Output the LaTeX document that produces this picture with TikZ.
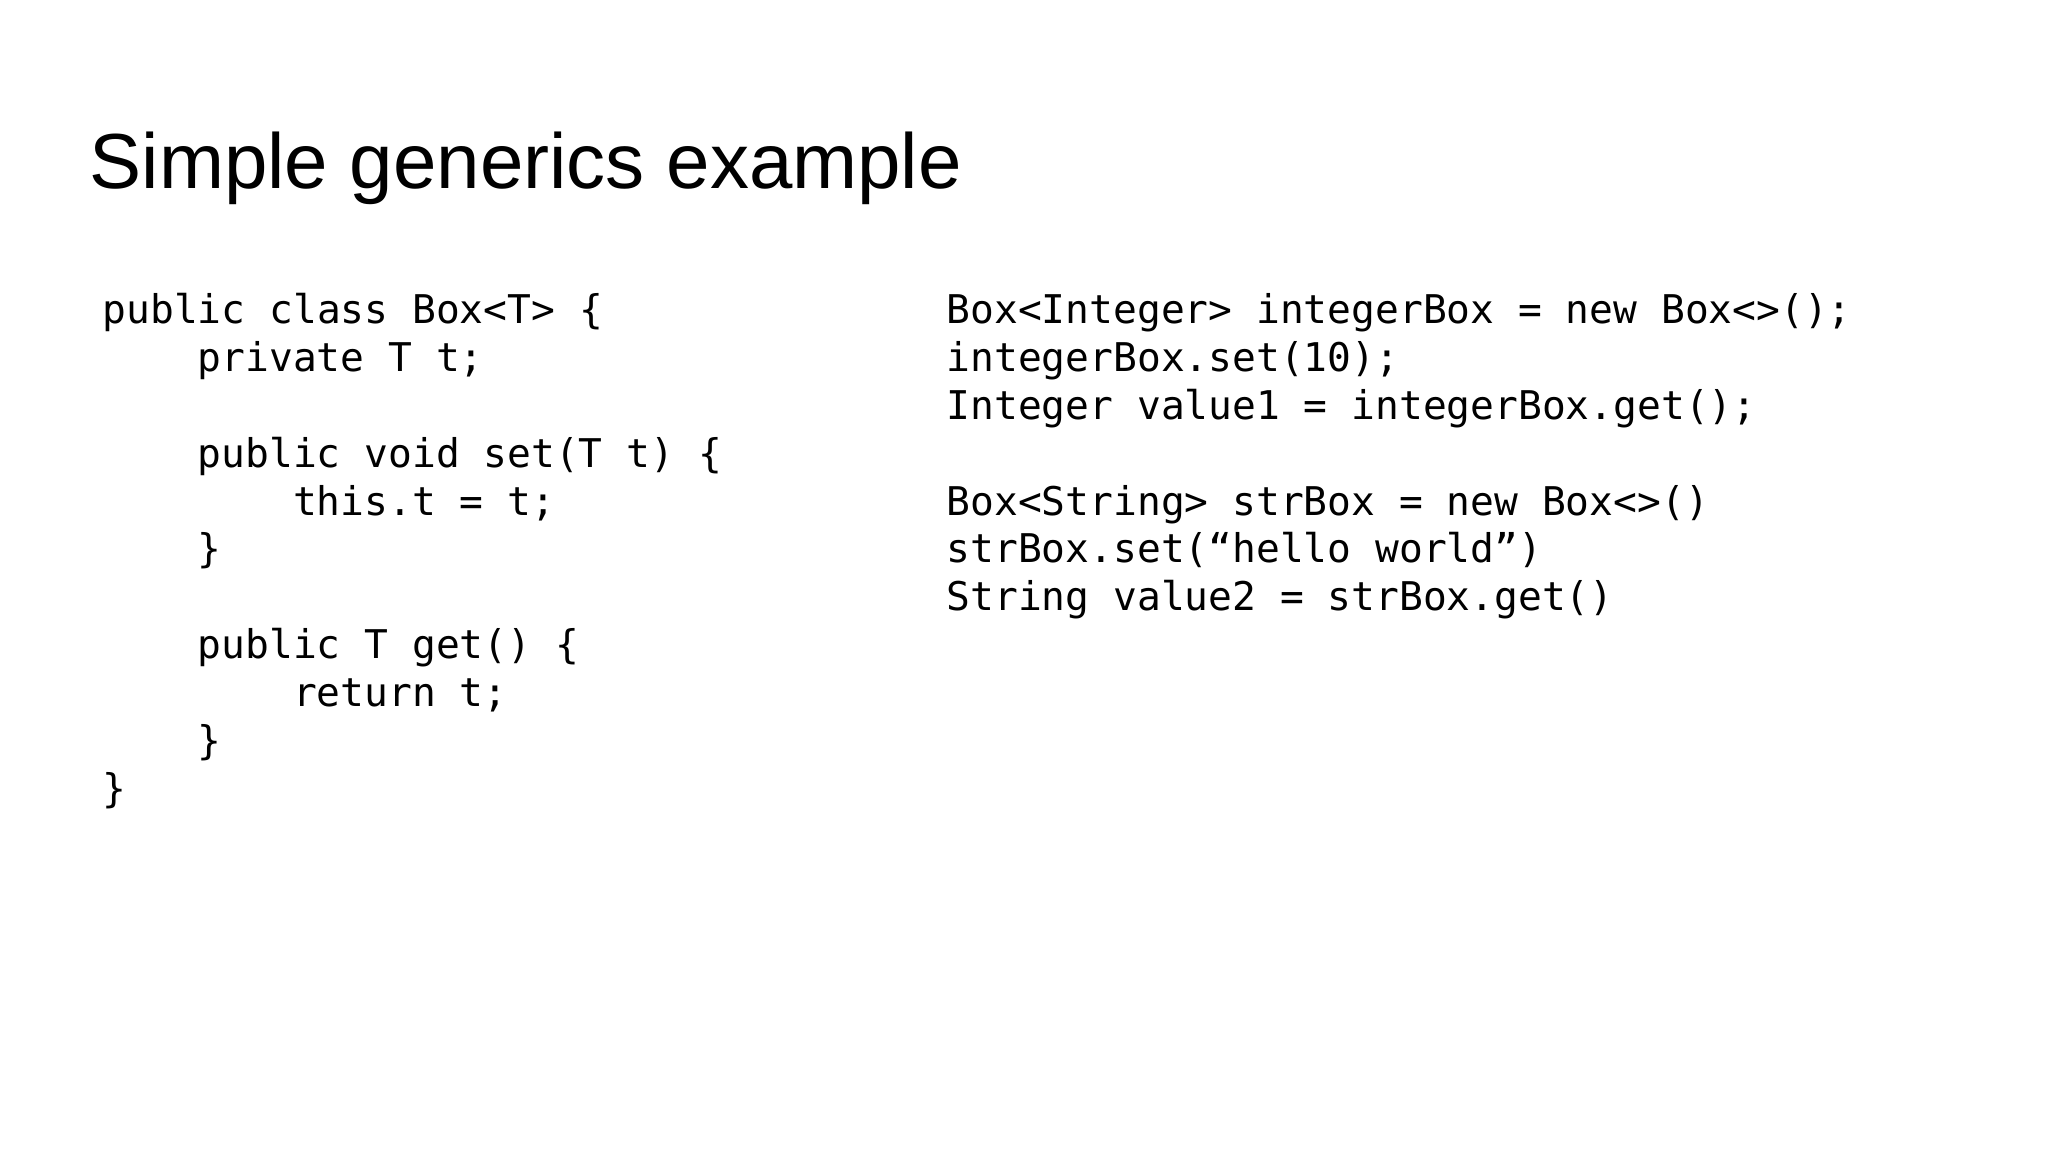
\documentclass[tikz,border=0pt]{standalone}
\usepackage{fontspec}
\setmainfont{Liberation Sans}
\newfontfamily\codefont{DejaVu Sans Mono}
\begin{document}
\begin{tikzpicture}[x=0.01cm,y=-0.01cm,
  codeline/.style={anchor=base west,inner sep=0pt,font=\codefont\fontsize{11.25pt}{13.6pt}\selectfont}]
\useasboundingbox (0,0) rectangle (2048,1152);
\node[anchor=base west,inner sep=0pt,font=\fontsize{22.2pt}{26pt}\selectfont] (title) at (89,189) {Simple generics example};
\def\cw{23.8}\def\lh{47.8}
\foreach \i/\ind/\t in {0/0/{public class Box<T> \{},1/4/{private T t;},3/4/{public void set(T t) \{},4/8/{this.t = t;},5/4/{\}},7/4/{public T get() \{},8/8/{return t;},9/4/{\}},10/0/{\}}}
  \node[codeline] (l\i) at ({102+\ind*\cw},{324+\i*\lh}) {\t};
\foreach \i/\t in {0/{Box<Integer> integerBox = new Box<>();},1/{integerBox.set(10);},2/{Integer value1 = integerBox.get();},4/{Box<String> strBox = new Box<>()},5/{strBox.set(“hello world”)},6/{String value2 = strBox.get()}}
  \node[codeline] (r\i) at (946,{324+\i*\lh}) {\t};
\end{tikzpicture}
\end{document}
